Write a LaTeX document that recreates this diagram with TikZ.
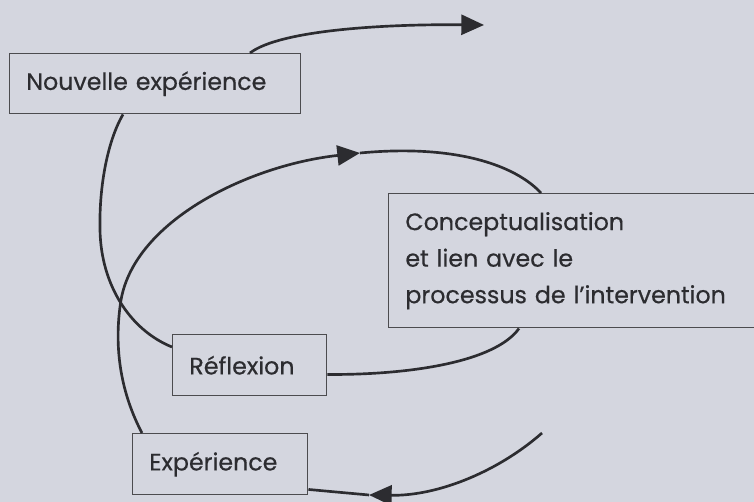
\documentclass[tikz,border=0pt]{standalone}
\usepackage{fontspec}
\setmainfont{Poppins}[FakeBold=0.5]
\usetikzlibrary{arrows.meta,calc}
\definecolor{bg}{HTML}{D4D6DF}
\definecolor{ink}{HTML}{2C2C30}
\begin{document}
\begin{tikzpicture}[x=0.75pt,y=-0.75pt,
  box/.style={draw=ink!85, line width=1.1pt, align=left, anchor=north west,
    inner xsep=12.5pt, inner ysep=0pt, text=ink,
    font=\fontsize{17.8}{27.4}\selectfont},
  flow/.style={draw=ink, line width=2pt},
  tip/.style={-{Triangle[length=17pt,width=15pt]}}]
\useasboundingbox (0,0) rectangle (754,502);
\fill[bg] (0,0) rectangle (754,502);
% boxes
\node[box, text width=193.25pt, minimum height=45pt] (nouv) at (9,53) {Nouvelle expérience};
\node[box, text width=90.5pt, minimum height=45.75pt] (refl) at (172,334) {Réflexion};
\node[box, text width=106.25pt, minimum height=45.75pt] (exp) at (132,433) {Expérience};
\node[box, text width=254pt, minimum height=100.5pt] (conc) at (388,193) {Conceptualisation\\et lien avec le\\processus de l'intervention};
% free ends and mid points
\coordinate (tTop) at (484,25);
\coordinate (m1) at (360,153);
\coordinate (bStart) at (542,433);
\coordinate (m2) at (369,495);
% connectors
\draw[flow,tip] ($(nouv.north west)+(241,0)$) .. controls (280,30) and (385,24) .. (tTop);
\draw[flow] ($(nouv.south west)+(114,0)$) .. controls (108,140) and (99,185) .. (100,230)
  .. controls (101,285) and (130,330) .. ($(refl.north west)+(0,13)$);
\draw[flow,tip] ($(exp.north west)+(10,0)$) .. controls (122,395) and (113,350) .. (121,300)
  .. controls (135,220) and (250,165) .. (m1);
\draw[flow] (m1) .. controls (455,144) and (515,165) .. ($(conc.north west)+(153,0)$);
\draw[flow] ($(refl.south east)+(0,-22)$) .. controls (410,375) and (495,362) .. ($(conc.south west)+(131,0)$);
\draw[flow,tip] (bStart) .. controls (500,470) and (440,496) .. (m2);
\draw[flow] (m2) -- ($(exp.south east)+(0,-6)$);
\end{tikzpicture}
\end{document}
